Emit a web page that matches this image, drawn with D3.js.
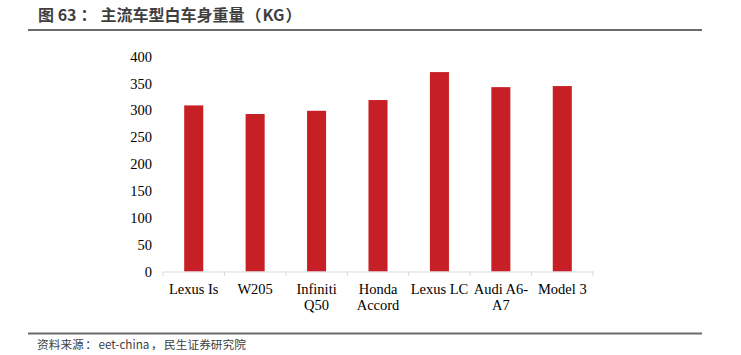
<!DOCTYPE html>
<html><head><meta charset="utf-8">
<script src="https://cdn.jsdelivr.net/npm/d3@7"></script>
<style>body{margin:0;background:#fff;}svg{display:block;}</style>
</head><body>
<svg id="c" width="741" height="355"></svg>
<script>
const categories = [["Lexus Is"],["W205"],["Infiniti","Q50"],["Honda","Accord"],["Lexus LC"],["Audi A6-","A7"],["Model 3"]];
const values = [309, 293, 299, 319, 371, 343, 345];
const yTicks = [0,50,100,150,200,250,300,350,400];
const titleParts = ["图 63", "：", "主流车型白车身重量", "（", "KG", "）"];
const sourceParts = ["资料来源", "：", "eet-china", "，", "民生证券研究院"];

(function(){
const svg = d3.select("#c");
const mLeft = 163, mRight = 593, mTop = 56.5, mBottom = 271.5;
const names = categories.map(c => c.join(" "));
const x = d3.scaleBand().domain(names).range([mLeft, mRight]).paddingInner(0.69).paddingOuter(0.345);
const y = d3.scaleLinear().domain([0, 400]).range([mBottom, mTop]);

// title
const titleGaps = [0, 4, 4, 1, 1, 1];
svg.append("text").attr("x", 38).attr("y", 21).attr("font-family", "'Noto Sans CJK SC', sans-serif")
  .attr("font-weight", "bold").attr("font-size", 16).attr("fill", "#3f3f3f")
  .selectAll("tspan").data(titleParts).join("tspan").attr("dx", (d, i) => titleGaps[i]).text(d => d);
svg.append("line").attr("x1", 28).attr("x2", 702).attr("y1", 30).attr("y2", 30).attr("stroke", "#6b6b6b").attr("stroke-width", 2);
svg.append("line").attr("x1", 28).attr("x2", 702).attr("y1", 333.5).attr("y2", 333.5).attr("stroke", "#6b6b6b").attr("stroke-width", 2);
const srcGaps = [0, 1.5, 1.5, 1.5, 1.5];
svg.append("text").attr("x", 37).attr("y", 349).attr("font-family", "'Noto Sans CJK SC', sans-serif")
  .attr("font-size", 11.7).attr("fill", "#404040")
  .selectAll("tspan").data(sourceParts).join("tspan").attr("dx", (d, i) => srcGaps[i]).text(d => d);

// y axis
const ya = svg.append("g").attr("transform", `translate(${mLeft},0)`)
  .call(d3.axisLeft(y).tickValues(yTicks).tickSize(0).tickPadding(11));
ya.select(".domain").remove();
ya.selectAll("text").attr("font-family", "'Liberation Serif', 'Times New Roman', serif").attr("font-size", 14.5).attr("fill", "#000");

// bars
svg.append("g").selectAll("rect").data(values).join("rect")
  .attr("x", (d, i) => x(names[i])).attr("width", x.bandwidth())
  .attr("y", d => y(d)).attr("height", d => mBottom - y(d))
  .attr("fill", "#C62026");

// x axis
const xa = svg.append("g").attr("transform", `translate(0,${mBottom})`)
  .call(d3.axisBottom(x).tickSize(0).tickFormat(() => ""));
xa.select(".domain").attr("stroke", "#d9d9d9").attr("stroke-width", 1);
const bounds = d3.range(names.length + 1).map(i => mLeft + i * (mRight - mLeft) / names.length);
xa.selectAll(".sep").data(bounds).join("line").attr("class", "sep")
  .attr("x1", d => d).attr("x2", d => d).attr("y1", 0).attr("y2", 4.5)
  .attr("stroke", "#d9d9d9").attr("stroke-width", 1);
const lbl = svg.append("g").selectAll("text").data(categories).join("text")
  .attr("font-family", "'Liberation Serif', 'Times New Roman', serif").attr("font-size", 14.5)
  .attr("fill", "#000").attr("text-anchor", "middle");
lbl.each(function(d, i) {
  const t = d3.select(this);
  d.forEach((line, j) => {
    t.append("tspan").attr("x", x(names[i]) + x.bandwidth() / 2).attr("y", 294 + j * 16).text(line);
  });
});
})();
</script>
</body></html>
